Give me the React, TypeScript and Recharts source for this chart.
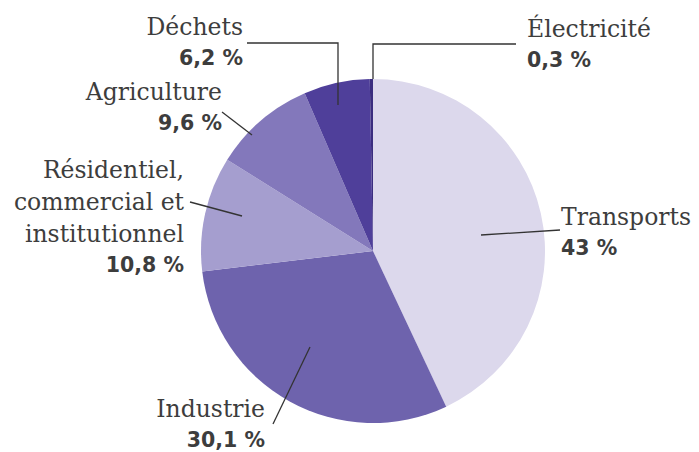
import { PieChart, Pie, Cell } from 'recharts';

const sectors = ['Transports', 'Industrie', 'Résidentiel, commercial et institutionnel', 'Agriculture', 'Déchets', 'Électricité'];
const shares = [43, 30.1, 10.8, 9.6, 6.2, 0.3];
const shareLabels = ['43 %', '30,1 %', '10,8 %', '9,6 %', '6,2 %', '0,3 %'];
const nameLines = [['Transports'], ['Industrie'], ['Résidentiel,', 'commercial et', 'institutionnel'], ['Agriculture'], ['Déchets'], ['Électricité']];

const COLORS = ['#dcd8ec', '#6e63ad', '#a59ecf', '#8378bb', '#4f3f9a', '#3b2d7f'];

// leader line points and text position, relative to the pie centre
const LAYOUT = [
  { line: [[108, -16], [187, -21]], tx: 188, ty: -26, anchor: 'start' },
  { line: [[-63, 96], [-100, 173]], tx: -108, ty: 166, anchor: 'end' },
  { line: [[-131, -35], [-183, -49]], tx: -189, ty: -73, anchor: 'end' },
  { line: [[-121, -116], [-151, -139]], tx: -151, ty: -151, anchor: 'end' },
  { line: [[-35, -146], [-35, -208], [-126, -208]], tx: -130, ty: -216, anchor: 'end' },
  { line: [[0, -172], [0, -207], [143, -207]], tx: 154, ty: -214, anchor: 'start' },
];

const data = sectors.map((name, i) => ({ name, value: shares[i] }));

const renderLabel = (props: any) => {
  const { cx, cy, index } = props;
  const l = LAYOUT[index];
  const pts = l.line.map(([dx, dy]) => `${cx + dx},${cy + dy}`).join(' ');
  const lines = nameLines[index];
  return (
    <g key={`lbl-${index}`}>
      <polyline points={pts} fill="none" stroke="#333" strokeWidth={1.3} />
      <text
        x={cx + l.tx}
        y={cy + l.ty}
        textAnchor={l.anchor}
        fill="#3d3d3d"
        style={{ fontFamily: 'DejaVu Serif', fontSize: 23.5 }}
      >
        {lines.map((t, j) => (
          <tspan key={j} x={cx + l.tx} dy={j === 0 ? 0 : 32}>{t}</tspan>
        ))}
      </text>
      <text
        x={cx + l.tx}
        y={cy + l.ty + 32 * lines.length - 2}
        textAnchor={l.anchor}
        fill="#3d3d3d"
        style={{ fontFamily: 'DejaVu Sans', fontSize: 20.5, fontWeight: 700 }}
      >
        {shareLabels[index]}
      </text>
    </g>
  );
};

export default function App() {
  return (
    <div style={{ position: 'absolute', left: 0, top: 0, background: '#fff' }}>
      <PieChart width={699} height={452} margin={{ top: 0, right: 0, bottom: 0, left: 0 }}>
        <Pie
          data={data}
          dataKey="value"
          cx={373}
          cy={251}
          outerRadius={172}
          startAngle={90}
          endAngle={-270}
          stroke="none"
          labelLine={false}
          label={renderLabel}
          isAnimationActive={false}
        >
          {data.map((d, i) => (
            <Cell key={d.name} fill={COLORS[i]} />
          ))}
        </Pie>
      </PieChart>
    </div>
  );
}
